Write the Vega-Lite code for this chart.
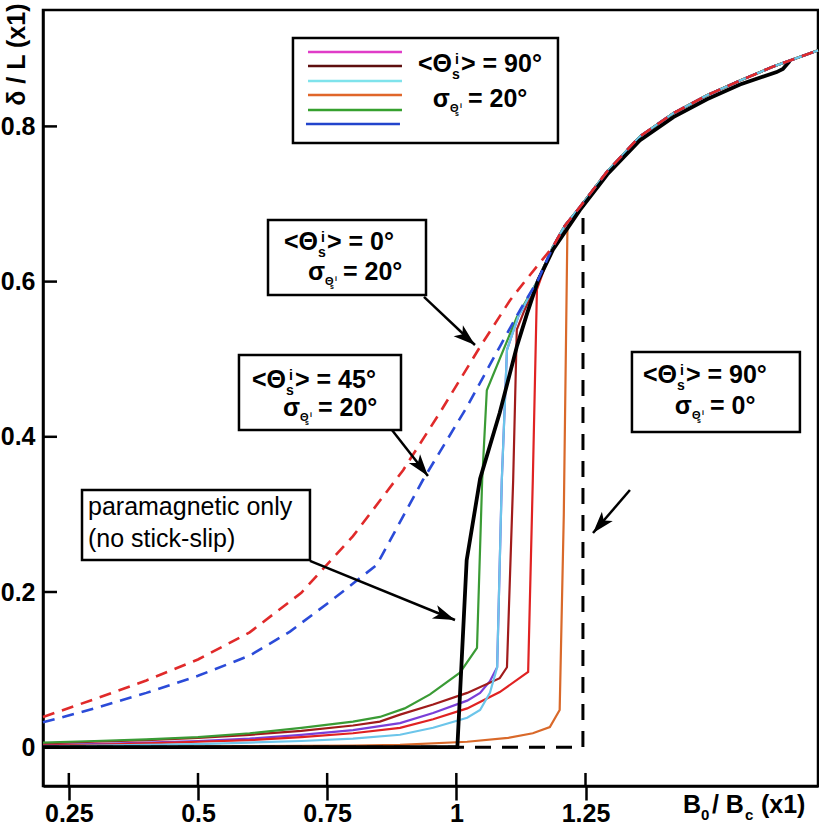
{
  "$schema": "https://vega.github.io/schema/vega-lite/v6.json",
  "autosize": {"type": "none"},
  "padding": {"left": 43, "top": 10, "right": 1, "bottom": 38},
  "width": 775,
  "height": 776,
  "background": "white",
  "config": {
    "view": {"stroke": "black", "strokeWidth": 2.5},
    "font": "Liberation Sans"
  },
  "resolve": {"scale": {"color": "independent"}},
  "datasets": {
    "curves": [
      {"s":"purple","x":0.2,"y":0.003},{"s":"purple","x":0.3,"y":0.004},{"s":"purple","x":0.4,"y":0.006},{"s":"purple","x":0.5,"y":0.008},{"s":"purple","x":0.6,"y":0.011},{"s":"purple","x":0.7,"y":0.016},{"s":"purple","x":0.8,"y":0.022},{"s":"purple","x":0.891,"y":0.031},{"s":"purple","x":0.955,"y":0.044},{"s":"purple","x":1.021,"y":0.06},{"s":"purple","x":1.046,"y":0.07},{"s":"purple","x":1.065,"y":0.085},{"s":"purple","x":1.079,"y":0.103},{"s":"purple","x":1.088,"y":0.344},{"s":"purple","x":1.098,"y":0.512},{"s":"purple","x":1.12,"y":0.555},{"s":"purple","x":1.158,"y":0.602},{"s":"purple","x":1.187,"y":0.645},{"s":"purple","x":1.21,"y":0.672},{"s":"purple","x":1.239,"y":0.696},{"s":"purple","x":1.292,"y":0.742},{"s":"purple","x":1.355,"y":0.787},{"s":"purple","x":1.42,"y":0.817},{"s":"purple","x":1.485,"y":0.84},{"s":"purple","x":1.549,"y":0.859},{"s":"purple","x":1.613,"y":0.877},{"s":"purple","x":1.7,"y":0.898},
      {"s":"orange","x":0.2,"y":0.0},{"s":"orange","x":0.5,"y":0.001},{"s":"orange","x":0.8,"y":0.002},{"s":"orange","x":0.891,"y":0.003},{"s":"orange","x":1.021,"y":0.007},{"s":"orange","x":1.1,"y":0.012},{"s":"orange","x":1.148,"y":0.018},{"s":"orange","x":1.181,"y":0.026},{"s":"orange","x":1.2,"y":0.048},{"s":"orange","x":1.208,"y":0.3},{"s":"orange","x":1.215,"y":0.668},{"s":"orange","x":1.239,"y":0.696},{"s":"orange","x":1.292,"y":0.742},{"s":"orange","x":1.355,"y":0.787},{"s":"orange","x":1.42,"y":0.817},{"s":"orange","x":1.485,"y":0.84},{"s":"orange","x":1.549,"y":0.859},{"s":"orange","x":1.613,"y":0.877},{"s":"orange","x":1.7,"y":0.898},
      {"s":"maroon","x":0.2,"y":0.005},{"s":"maroon","x":0.3,"y":0.007},{"s":"maroon","x":0.4,"y":0.009},{"s":"maroon","x":0.5,"y":0.012},{"s":"maroon","x":0.6,"y":0.016},{"s":"maroon","x":0.7,"y":0.021},{"s":"maroon","x":0.8,"y":0.028},{"s":"maroon","x":0.852,"y":0.033},{"s":"maroon","x":0.891,"y":0.042},{"s":"maroon","x":0.955,"y":0.055},{"s":"maroon","x":1.021,"y":0.07},{"s":"maroon","x":1.084,"y":0.089},{"s":"maroon","x":1.098,"y":0.103},{"s":"maroon","x":1.11,"y":0.344},{"s":"maroon","x":1.117,"y":0.538},{"s":"maroon","x":1.13,"y":0.56},{"s":"maroon","x":1.158,"y":0.602},{"s":"maroon","x":1.187,"y":0.645},{"s":"maroon","x":1.21,"y":0.672},{"s":"maroon","x":1.239,"y":0.696},{"s":"maroon","x":1.292,"y":0.742},{"s":"maroon","x":1.355,"y":0.787},{"s":"maroon","x":1.42,"y":0.817},{"s":"maroon","x":1.485,"y":0.84},{"s":"maroon","x":1.549,"y":0.859},{"s":"maroon","x":1.613,"y":0.877},{"s":"maroon","x":1.7,"y":0.898},
      {"s":"red","x":0.2,"y":0.002},{"s":"red","x":0.3,"y":0.003},{"s":"red","x":0.4,"y":0.005},{"s":"red","x":0.5,"y":0.007},{"s":"red","x":0.6,"y":0.009},{"s":"red","x":0.7,"y":0.013},{"s":"red","x":0.8,"y":0.018},{"s":"red","x":0.891,"y":0.025},{"s":"red","x":0.955,"y":0.036},{"s":"red","x":1.021,"y":0.05},{"s":"red","x":1.084,"y":0.071},{"s":"red","x":1.139,"y":0.097},{"s":"red","x":1.148,"y":0.344},{"s":"red","x":1.156,"y":0.59},{"s":"red","x":1.17,"y":0.616},{"s":"red","x":1.187,"y":0.645},{"s":"red","x":1.21,"y":0.672},{"s":"red","x":1.239,"y":0.696},{"s":"red","x":1.292,"y":0.742},{"s":"red","x":1.355,"y":0.787},{"s":"red","x":1.42,"y":0.817},{"s":"red","x":1.485,"y":0.84},{"s":"red","x":1.549,"y":0.859},{"s":"red","x":1.613,"y":0.877},{"s":"red","x":1.7,"y":0.898},
      {"s":"green","x":0.2,"y":0.006},{"s":"green","x":0.3,"y":0.008},{"s":"green","x":0.4,"y":0.01},{"s":"green","x":0.5,"y":0.013},{"s":"green","x":0.6,"y":0.018},{"s":"green","x":0.7,"y":0.025},{"s":"green","x":0.8,"y":0.033},{"s":"green","x":0.852,"y":0.039},{"s":"green","x":0.9,"y":0.05},{"s":"green","x":0.949,"y":0.068},{"s":"green","x":1.007,"y":0.096},{"s":"green","x":1.04,"y":0.128},{"s":"green","x":1.05,"y":0.344},{"s":"green","x":1.059,"y":0.46},{"s":"green","x":1.117,"y":0.554},{"s":"green","x":1.158,"y":0.602},{"s":"green","x":1.187,"y":0.645},{"s":"green","x":1.21,"y":0.672},{"s":"green","x":1.239,"y":0.696},{"s":"green","x":1.292,"y":0.742},{"s":"green","x":1.355,"y":0.787},{"s":"green","x":1.42,"y":0.817},{"s":"green","x":1.485,"y":0.84},{"s":"green","x":1.549,"y":0.859},{"s":"green","x":1.613,"y":0.877},{"s":"green","x":1.7,"y":0.898},
      {"s":"cyan","x":0.2,"y":0.001},{"s":"cyan","x":0.3,"y":0.002},{"s":"cyan","x":0.4,"y":0.003},{"s":"cyan","x":0.5,"y":0.004},{"s":"cyan","x":0.6,"y":0.006},{"s":"cyan","x":0.7,"y":0.008},{"s":"cyan","x":0.8,"y":0.011},{"s":"cyan","x":0.891,"y":0.016},{"s":"cyan","x":0.955,"y":0.025},{"s":"cyan","x":1.021,"y":0.038},{"s":"cyan","x":1.046,"y":0.048},{"s":"cyan","x":1.065,"y":0.07},{"s":"cyan","x":1.079,"y":0.103},{"s":"cyan","x":1.088,"y":0.344},{"s":"cyan","x":1.098,"y":0.512},{"s":"cyan","x":1.12,"y":0.555},{"s":"cyan","x":1.158,"y":0.602},{"s":"cyan","x":1.187,"y":0.645},{"s":"cyan","x":1.21,"y":0.672},{"s":"cyan","x":1.239,"y":0.696},{"s":"cyan","x":1.292,"y":0.742},{"s":"cyan","x":1.355,"y":0.787},{"s":"cyan","x":1.42,"y":0.817},{"s":"cyan","x":1.485,"y":0.84},{"s":"cyan","x":1.549,"y":0.859},{"s":"cyan","x":1.613,"y":0.877},{"s":"cyan","x":1.7,"y":0.898},
      {"s":"black","x":0.2,"y":0.0},{"s":"black","x":1.002,"y":0.0},{"s":"black","x":1.02,"y":0.241},{"s":"black","x":1.046,"y":0.346},{"s":"black","x":1.084,"y":0.431},{"s":"black","x":1.117,"y":0.516},{"s":"black","x":1.137,"y":0.559},{"s":"black","x":1.158,"y":0.601},{"s":"black","x":1.187,"y":0.641},{"s":"black","x":1.239,"y":0.692},{"s":"black","x":1.292,"y":0.738},{"s":"black","x":1.355,"y":0.782},{"s":"black","x":1.42,"y":0.812},{"s":"black","x":1.485,"y":0.835},{"s":"black","x":1.549,"y":0.854},{"s":"black","x":1.62,"y":0.87},{"s":"black","x":1.632,"y":0.874},{"s":"black","x":1.645,"y":0.884},
      {"s":"kdash","x":0.2,"y":0.0},{"s":"kdash","x":1.245,"y":0.0},{"s":"kdash","x":1.2452,"y":0.697},
      {"s":"bdash","x":0.2,"y":0.032},{"s":"bdash","x":0.3,"y":0.05},{"s":"bdash","x":0.4,"y":0.07},{"s":"bdash","x":0.5,"y":0.092},{"s":"bdash","x":0.6,"y":0.118},{"s":"bdash","x":0.678,"y":0.149},{"s":"bdash","x":0.76,"y":0.19},{"s":"bdash","x":0.846,"y":0.235},{"s":"bdash","x":0.935,"y":0.344},{"s":"bdash","x":1.02,"y":0.438},{"s":"bdash","x":1.084,"y":0.516},{"s":"bdash","x":1.123,"y":0.563},{"s":"bdash","x":1.158,"y":0.602},{"s":"bdash","x":1.187,"y":0.645},{"s":"bdash","x":1.21,"y":0.672},{"s":"bdash","x":1.239,"y":0.696},{"s":"bdash","x":1.292,"y":0.742},{"s":"bdash","x":1.355,"y":0.787},{"s":"bdash","x":1.42,"y":0.817},{"s":"bdash","x":1.485,"y":0.84},{"s":"bdash","x":1.549,"y":0.859},{"s":"bdash","x":1.613,"y":0.877},{"s":"bdash","x":1.7,"y":0.898},
      {"s":"rdash","x":0.2,"y":0.039},{"s":"rdash","x":0.3,"y":0.062},{"s":"rdash","x":0.4,"y":0.086},{"s":"rdash","x":0.5,"y":0.113},{"s":"rdash","x":0.6,"y":0.148},{"s":"rdash","x":0.7,"y":0.199},{"s":"rdash","x":0.8,"y":0.272},{"s":"rdash","x":0.897,"y":0.357},{"s":"rdash","x":0.968,"y":0.431},{"s":"rdash","x":1.046,"y":0.516},{"s":"rdash","x":1.104,"y":0.576},{"s":"rdash","x":1.137,"y":0.604},{"s":"rdash","x":1.187,"y":0.645},{"s":"rdash","x":1.21,"y":0.672},{"s":"rdash","x":1.239,"y":0.696},{"s":"rdash","x":1.292,"y":0.742},{"s":"rdash","x":1.355,"y":0.787},{"s":"rdash","x":1.42,"y":0.817},{"s":"rdash","x":1.485,"y":0.84},{"s":"rdash","x":1.549,"y":0.859},{"s":"rdash","x":1.613,"y":0.877},{"s":"rdash","x":1.7,"y":0.898}
    ],
    "boxes": [
      {"id":"A","x":0.6838,"x2":1.1967,"y":0.9139,"y2":0.7786},
      {"id":"B","x":0.6355,"x2":0.9413,"y":0.6794,"y2":0.5827},
      {"id":"C","x":0.5793,"x2":0.8929,"y":0.5054,"y2":0.4088},
      {"id":"D","x":1.3399,"x2":1.665,"y":0.5093,"y2":0.4062},
      {"id":"E","x":0.2755,"x2":0.7167,"y":0.3314,"y2":0.2412}
    ],
    "legend": [
      {"c":"magenta","x":0.7129,"x2":0.8948,"y":0.8959},
      {"c":"maroon","x":0.7129,"x2":0.8948,"y":0.8778},
      {"c":"cyan","x":0.7129,"x2":0.8948,"y":0.8585},
      {"c":"orange","x":0.7129,"x2":0.8948,"y":0.8405},
      {"c":"green","x":0.7129,"x2":0.8948,"y":0.8211},
      {"c":"blue","x":0.709,"x2":0.8909,"y":0.8031}
    ],
    "labels": [
      {"id":"A","x1":0.9916,"y1":0.8701,"t1":"> = 90°","x2":0.9877,"y2":0.825,"t2":"= 20°"},
      {"id":"B","x1":0.7322,"y1":0.6407,"t1":"> = 0°","x2":0.7458,"y2":0.6021,"t2":"= 20°"},
      {"id":"C","x1":0.6703,"y1":0.4629,"t1":"> = 45°","x2":0.6974,"y2":0.4268,"t2":"= 20°"},
      {"id":"D","x1":1.427,"y1":0.4693,"t1":"> = 90°","x2":1.456,"y2":0.4294,"t2":"= 0°"}
    ],
    "para": [
      {"t":"paramagnetic only","x":0.2871,"y":0.2992},
      {"t":"(no stick-slip)","x":0.2871,"y":0.258}
    ],
    "arrows": [
      {"id":"B","x":0.9374,"y":0.5802,"x2":1.0361,"y2":0.5183},
      {"id":"C","x":0.8754,"y":0.4088,"x2":0.9451,"y2":0.3495},
      {"id":"D","x":1.336,"y":0.3314,"x2":1.2645,"y2":0.276},
      {"id":"E","x":0.7167,"y":0.24,"x2":0.9974,"y2":0.1639}
    ],
    "xtitle": [{"x":1.4386,"y":-0.0848}],
    "xticks": [{"v":0.25},{"v":0.5},{"v":0.75},{"v":1},{"v":1.25}],
    "yticks": [{"v":0},{"v":0.2},{"v":0.4},{"v":0.6},{"v":0.8}]
  },
  "layer": [
    {
      "data": {"name": "curves"},
      "transform": [{"filter": {"field": "s", "oneOf": ["purple","orange","maroon","red","green","cyan"]}}],
      "mark": {"type": "line", "strokeWidth": 2.2},
      "encoding": {
        "x": {"field": "x", "type": "quantitative", "scale": {"domain": [0.2, 1.7], "nice": false, "zero": false},
          "axis": {"values": [0.25,0.5,0.75,1,1.25], "format": ".3~g", "title": null, "grid": false, "domainColor": "black", "domainWidth": 2.5, "tickColor": "black", "tickWidth": 2.5, "tickSize": 14, "labelFont": "Liberation Sans", "labelFontSize": 25, "labelFontWeight": "bold", "labelColor": "black", "labelPadding": 1, "labelFlush": false, "labelOverlap": false}},
        "y": {"field": "y", "type": "quantitative", "scale": {"domain": [-0.05, 0.95], "nice": false, "zero": false},
          "axis": {"values": [0,0.2,0.4,0.6,0.8], "format": ".3~g", "title": "δ / L (x1)", "grid": false, "ticks": false, "tickSize": 0, "domainColor": "black", "domainWidth": 2.5, "labelFont": "Liberation Sans", "labelFontSize": 25, "labelFontWeight": "bold", "labelColor": "black", "labelPadding": 8, "labelFlush": false, "labelOverlap": false, "titleFont": "Liberation Sans", "titleFontSize": 25, "titleFontWeight": "bold", "titleColor": "black", "titleAngle": -90, "titleX": -27, "titleY": -7, "titleAlign": "right", "titleBaseline": "middle"}},
        "color": {"field": "s", "type": "nominal", "legend": null,
          "scale": {"domain": ["purple","orange","maroon","red","green","cyan"], "range": ["#7a3fd8","#d9692a","#a01b1b","#e02222","#3a9b35","#6cc5ea"]}}
      }
    },
    {
      "data": {"name": "curves"},
      "transform": [{"filter": "datum.s === 'black'"}],
      "mark": {"type": "line", "strokeWidth": 3.8, "color": "black"},
      "encoding": {"x": {"field": "x", "type": "quantitative"}, "y": {"field": "y", "type": "quantitative"}}
    },
    {
      "data": {"name": "curves"},
      "transform": [{"filter": "datum.s === 'kdash'"}],
      "mark": {"type": "line", "strokeWidth": 3, "color": "black", "strokeDash": [16, 11]},
      "encoding": {"x": {"field": "x", "type": "quantitative"}, "y": {"field": "y", "type": "quantitative"}}
    },
    {
      "data": {"name": "curves"},
      "transform": [{"filter": {"field": "s", "oneOf": ["bdash","rdash"]}}],
      "mark": {"type": "line", "strokeWidth": 2.6, "strokeDash": [12, 8]},
      "encoding": {"x": {"field": "x", "type": "quantitative"}, "y": {"field": "y", "type": "quantitative"},
        "color": {"field": "s", "type": "nominal", "legend": null, "scale": {"domain": ["bdash","rdash"], "range": ["#2b4bd8","#e02a2a"]}}}
    },
    {
      "data": {"name": "boxes"},
      "mark": {"type": "rect", "fill": "white", "stroke": "black", "strokeWidth": 2.5},
      "encoding": {"x": {"field": "x", "type": "quantitative"}, "x2": {"field": "x2"}, "y": {"field": "y", "type": "quantitative"}, "y2": {"field": "y2"}}
    },
    {
      "data": {"name": "legend"},
      "mark": {"type": "rule", "strokeWidth": 2.5},
      "encoding": {"x": {"field": "x", "type": "quantitative"}, "x2": {"field": "x2"}, "y": {"field": "y", "type": "quantitative"},
        "color": {"field": "c", "type": "nominal", "legend": null, "scale": {"domain": ["magenta","maroon","cyan","orange","green","blue"], "range": ["#e03cc8","#5e0f0f","#7fe3ec","#e0662a","#36a02e","#2244cc"]}}}
    },
    {
      "data": {"name": "labels"},
      "mark": {"type": "text", "text": "<Θ", "align": "right", "baseline": "alphabetic", "font": "Liberation Sans", "fontSize": 25, "fontWeight": "bold", "color": "black"},
      "encoding": {"x": {"field": "x1", "type": "quantitative"}, "y": {"field": "y1", "type": "quantitative"}}
    },
    {
      "data": {"name": "labels"},
      "mark": {"type": "text", "text": "s", "align": "left", "baseline": "alphabetic", "font": "Liberation Sans", "fontSize": 14, "fontWeight": "bold", "color": "black", "dx": 0, "dy": 7},
      "encoding": {"x": {"field": "x1", "type": "quantitative"}, "y": {"field": "y1", "type": "quantitative"}}
    },
    {
      "data": {"name": "labels"},
      "mark": {"type": "text", "text": "i", "align": "left", "baseline": "alphabetic", "font": "Liberation Sans", "fontSize": 14, "fontWeight": "bold", "color": "black", "dx": 3, "dy": -8},
      "encoding": {"x": {"field": "x1", "type": "quantitative"}, "y": {"field": "y1", "type": "quantitative"}}
    },
    {
      "data": {"name": "labels"},
      "mark": {"type": "text", "align": "left", "baseline": "alphabetic", "font": "Liberation Sans", "fontSize": 25, "fontWeight": "bold", "color": "black", "dx": 9},
      "encoding": {"x": {"field": "x1", "type": "quantitative"}, "y": {"field": "y1", "type": "quantitative"}, "text": {"field": "t1"}}
    },
    {
      "data": {"name": "labels"},
      "mark": {"type": "text", "text": "σ", "align": "right", "baseline": "alphabetic", "font": "Liberation Sans", "fontSize": 25, "fontWeight": "bold", "color": "black"},
      "encoding": {"x": {"field": "x2", "type": "quantitative"}, "y": {"field": "y2", "type": "quantitative"}}
    },
    {
      "data": {"name": "labels"},
      "mark": {"type": "text", "text": "Θ", "align": "left", "baseline": "alphabetic", "font": "Liberation Sans", "fontSize": 11, "fontWeight": "bold", "color": "black", "dx": 0, "dy": 5},
      "encoding": {"x": {"field": "x2", "type": "quantitative"}, "y": {"field": "y2", "type": "quantitative"}}
    },
    {
      "data": {"name": "labels"},
      "mark": {"type": "text", "text": "s", "align": "left", "baseline": "alphabetic", "font": "Liberation Sans", "fontSize": 7, "fontWeight": "bold", "color": "black", "dx": 5, "dy": 9},
      "encoding": {"x": {"field": "x2", "type": "quantitative"}, "y": {"field": "y2", "type": "quantitative"}}
    },
    {
      "data": {"name": "labels"},
      "mark": {"type": "text", "text": "i", "align": "left", "baseline": "alphabetic", "font": "Liberation Sans", "fontSize": 7, "fontWeight": "bold", "color": "black", "dx": 10, "dy": 1},
      "encoding": {"x": {"field": "x2", "type": "quantitative"}, "y": {"field": "y2", "type": "quantitative"}}
    },
    {
      "data": {"name": "labels"},
      "mark": {"type": "text", "align": "left", "baseline": "alphabetic", "font": "Liberation Sans", "fontSize": 25, "fontWeight": "bold", "color": "black", "dx": 18},
      "encoding": {"x": {"field": "x2", "type": "quantitative"}, "y": {"field": "y2", "type": "quantitative"}, "text": {"field": "t2"}}
    },
    {
      "data": {"name": "para"},
      "mark": {"type": "text", "align": "left", "baseline": "alphabetic", "font": "Liberation Sans", "fontSize": 25, "fontWeight": "normal", "color": "black"},
      "encoding": {"x": {"field": "x", "type": "quantitative"}, "y": {"field": "y", "type": "quantitative"}, "text": {"field": "t"}}
    },
    {
      "data": {"name": "arrows"},
      "mark": {"type": "rule", "strokeWidth": 2.5, "color": "black"},
      "encoding": {"x": {"field": "x", "type": "quantitative"}, "x2": {"field": "x2"}, "y": {"field": "y", "type": "quantitative"}, "y2": {"field": "y2"}}
    },
    {
      "data": {"name": "arrows"},
      "transform": [{"filter": "datum.id === 'B'"}],
      "mark": {"type": "point", "shape": "M0,0L-2,-0.65L-1.5,0L-2,0.65Z", "filled": true, "color": "black", "opacity": 1, "size": 484, "angle": 40.5},
      "encoding": {"x": {"field": "x2", "type": "quantitative"}, "y": {"field": "y2", "type": "quantitative"}}
    },
    {
      "data": {"name": "arrows"},
      "transform": [{"filter": "datum.id === 'C'"}],
      "mark": {"type": "point", "shape": "M0,0L-2,-0.65L-1.5,0L-2,0.65Z", "filled": true, "color": "black", "opacity": 1, "size": 484, "angle": 52},
      "encoding": {"x": {"field": "x2", "type": "quantitative"}, "y": {"field": "y2", "type": "quantitative"}}
    },
    {
      "data": {"name": "arrows"},
      "transform": [{"filter": "datum.id === 'D'"}],
      "mark": {"type": "point", "shape": "M0,0L-2,-0.65L-1.5,0L-2,0.65Z", "filled": true, "color": "black", "opacity": 1, "size": 484, "angle": 130.7},
      "encoding": {"x": {"field": "x2", "type": "quantitative"}, "y": {"field": "y2", "type": "quantitative"}}
    },
    {
      "data": {"name": "arrows"},
      "transform": [{"filter": "datum.id === 'E'"}],
      "mark": {"type": "point", "shape": "M0,0L-2,-0.65L-1.5,0L-2,0.65Z", "filled": true, "color": "black", "opacity": 1, "size": 484, "angle": 21.8},
      "encoding": {"x": {"field": "x2", "type": "quantitative"}, "y": {"field": "y2", "type": "quantitative"}}
    },
    {
      "data": {"name": "xtitle"},
      "mark": {"type": "text", "text": "B", "align": "left", "baseline": "alphabetic", "font": "Liberation Sans", "fontSize": 25, "fontWeight": "bold", "color": "black", "dx": 0},
      "encoding": {"x": {"field": "x", "type": "quantitative"}, "y": {"field": "y", "type": "quantitative"}}
    },
    {
      "data": {"name": "xtitle"},
      "mark": {"type": "text", "text": "0", "align": "left", "baseline": "alphabetic", "font": "Liberation Sans", "fontSize": 15, "fontWeight": "bold", "color": "black", "dx": 18, "dy": 7},
      "encoding": {"x": {"field": "x", "type": "quantitative"}, "y": {"field": "y", "type": "quantitative"}}
    },
    {
      "data": {"name": "xtitle"},
      "mark": {"type": "text", "text": "/ B", "align": "left", "baseline": "alphabetic", "font": "Liberation Sans", "fontSize": 25, "fontWeight": "bold", "color": "black", "dx": 29},
      "encoding": {"x": {"field": "x", "type": "quantitative"}, "y": {"field": "y", "type": "quantitative"}}
    },
    {
      "data": {"name": "xtitle"},
      "mark": {"type": "text", "text": "c", "align": "left", "baseline": "alphabetic", "font": "Liberation Sans", "fontSize": 15, "fontWeight": "bold", "color": "black", "dx": 62, "dy": 7},
      "encoding": {"x": {"field": "x", "type": "quantitative"}, "y": {"field": "y", "type": "quantitative"}}
    },
    {
      "data": {"name": "xtitle"},
      "mark": {"type": "text", "text": "(x1)", "align": "left", "baseline": "alphabetic", "font": "Liberation Sans", "fontSize": 25, "fontWeight": "bold", "color": "black", "dx": 78},
      "encoding": {"x": {"field": "x", "type": "quantitative"}, "y": {"field": "y", "type": "quantitative"}}
    },
    {
      "data": {"name": "xticks"},
      "mark": {"type": "rule", "strokeWidth": 2.5, "color": "black"},
      "encoding": {"x": {"field": "v", "type": "quantitative"}, "y": {"datum": -0.05}, "y2": {"datum": -0.0332}}
    },
    {
      "data": {"name": "yticks"},
      "mark": {"type": "rule", "strokeWidth": 2.5, "color": "black"},
      "encoding": {"y": {"field": "v", "type": "quantitative"}, "x": {"datum": 0.2}, "x2": {"datum": 0.2271}}
    }
  ]
}
